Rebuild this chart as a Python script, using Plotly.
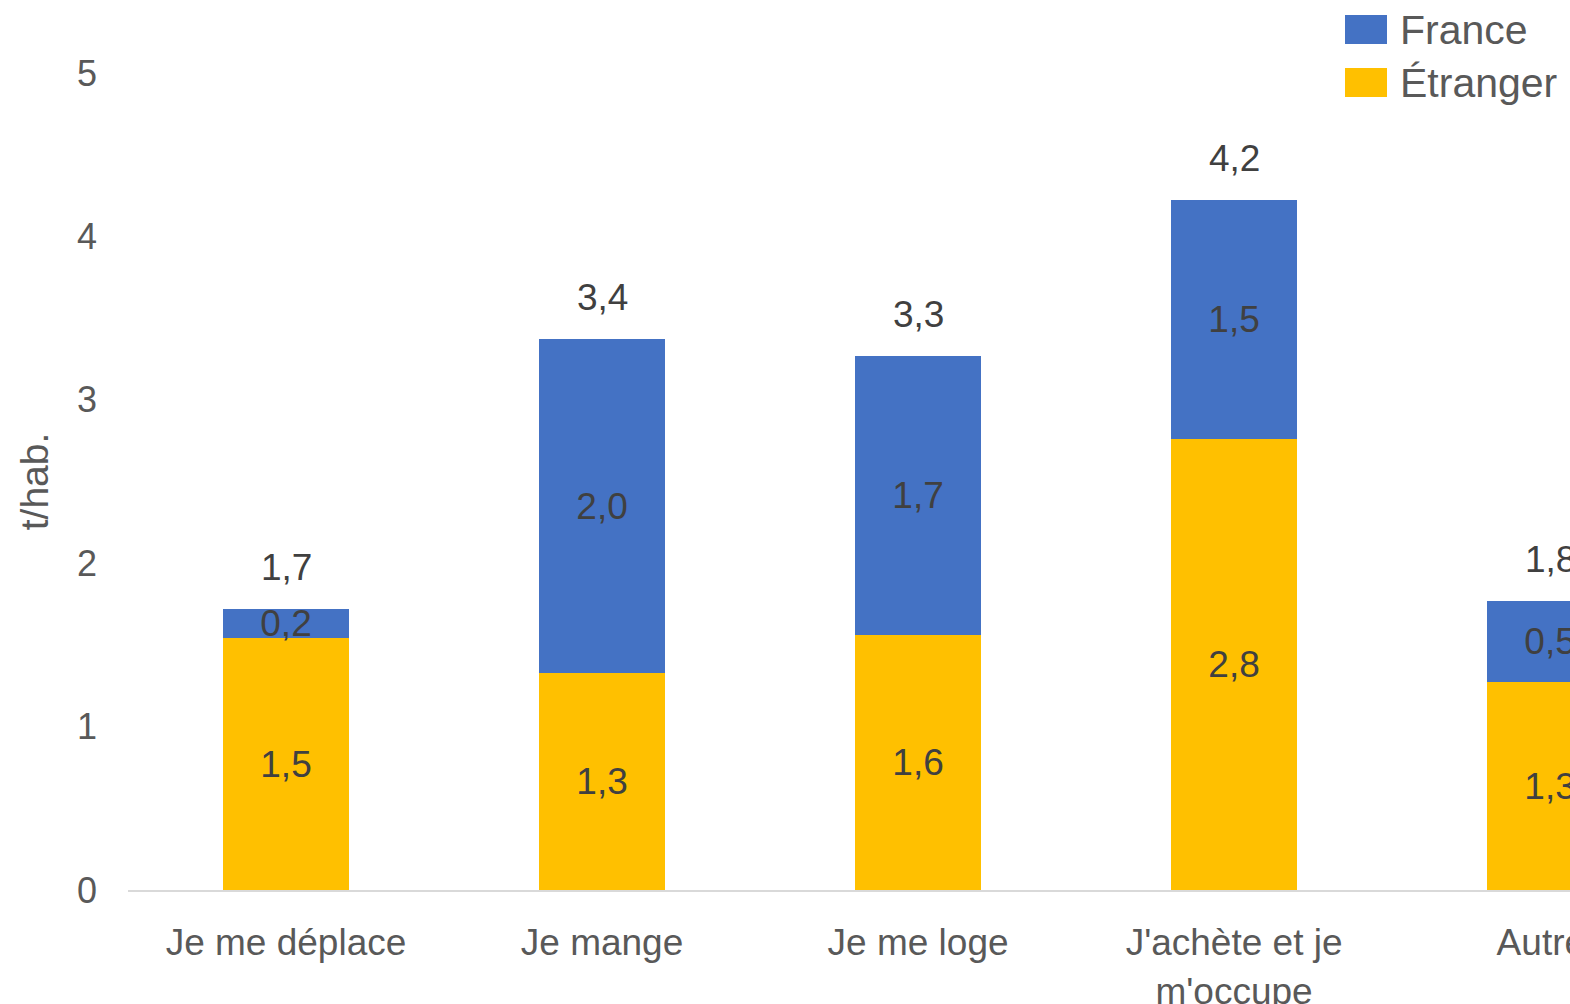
import plotly.graph_objects as go

categories = ["Je me déplace", "Je mange", "Je me loge", "J'achète et je<br>m'occupe", "Autres"]
etranger = [1.54, 1.33, 1.56, 2.76, 1.27]
france = [0.18, 2.04, 1.71, 1.46, 0.50]
series_names = ["France", "Étranger"]
series_colors = ["#4472C4", "#FFC000"]
y_ticks = [0, 1, 2, 3, 4, 5]

totals = [e + f for e, f in zip(etranger, france)]

FONT = "Liberation Sans, Arial, sans-serif"
GREY = "#595959"
DARK = "#404040"
LBL = 37

fig = go.Figure()
fig.add_trace(go.Bar(
    x=categories, y=etranger, name=series_names[1],
    marker=dict(color=series_colors[1], line=dict(width=0)),
    texttemplate="%{y:.1f}", textposition="inside", insidetextanchor="middle",
    textangle=0, textfont=dict(size=LBL, color=DARK, family=FONT),
    showlegend=False, hoverinfo="skip",
))
fig.add_trace(go.Bar(
    x=categories, y=france, name=series_names[0],
    marker=dict(color=series_colors[0], line=dict(width=0)),
    texttemplate="%{y:.1f}", textposition="inside", insidetextanchor="middle",
    textangle=0, textfont=dict(size=LBL, color=DARK, family=FONT),
    showlegend=False, hoverinfo="skip",
))

for c, t in zip(categories, totals):
    fig.add_annotation(
        x=c, y=t, xref="x", yref="y",
        text=f"{t:.1f}".replace(".", ","),
        showarrow=False, yanchor="bottom", yshift=19,
        font=dict(size=LBL, color=DARK, family=FONT),
    )

fig.update_layout(
    width=1570, height=1004,
    margin=dict(l=128, r=0, t=73, b=114),
    paper_bgcolor="white", plot_bgcolor="white",
    barmode="stack", bargap=0.6,
    separators=", ",
    font=dict(family=FONT, color=GREY, size=36),
    uniformtext=dict(minsize=LBL, mode="show"),
    xaxis=dict(
        range=[-0.5, 4.063], showgrid=False, zeroline=False, automargin=False,
        showline=True, linecolor="#D9D9D9", linewidth=2,
        ticks="", tickfont=dict(size=37, color=GREY, family=FONT),
        ticklabelstandoff=19, fixedrange=True,
    ),
    yaxis=dict(
        range=[0, 5], tickvals=y_ticks, showgrid=False, zeroline=False, automargin=False,
        showline=False, ticks="", tickfont=dict(size=36, color=GREY, family=FONT),
        ticklabelstandoff=30, fixedrange=True,
        title=dict(text="t/hab.", font=dict(size=39, color=GREY, family=FONT), standoff=16),
    ),
)

# legend drawn with paper-referenced shapes and annotations
H = 1004 - 73 - 114
W = 1570 - 128
legend_rows = [(15, 44), (68, 97)]
for name, color, (top, bot) in zip(series_names, series_colors, legend_rows):
    y0 = (890 - bot) / H
    y1 = (890 - top) / H
    fig.add_shape(
        type="rect", xref="paper", yref="paper",
        x0=(1345 - 128) / W, x1=(1387 - 128) / W, y0=y0, y1=y1,
        line=dict(width=0), fillcolor=color,
    )
    fig.add_annotation(
        xref="paper", yref="paper", x=(1398 - 128) / W, y=(y0 + y1) / 2,
        xanchor="left", yanchor="middle", text=name, showarrow=False,
        font=dict(size=41, color=GREY, family=FONT),
    )

fig.write_html(
    "out.html",
    config={"displayModeBar": False},
    post_script="document.body.style.margin='0';document.body.style.overflow='hidden';",
)
